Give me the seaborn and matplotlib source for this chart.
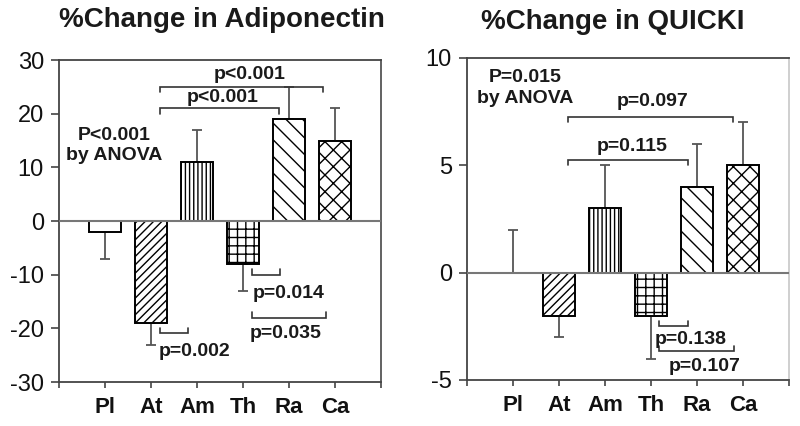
import matplotlib
matplotlib.use('Agg')
import matplotlib.pyplot as plt
import seaborn as sns

# data
groups = ['Pl', 'At', 'Am', 'Th', 'Ra', 'Ca']
hatches = ['', '////', '||||', '++', '\\\\', 'xx']

adipo_mean = [-2, -19, 11, -8, 19, 15]
adipo_err = [5, 4, 6, 5, 6, 6]

quicki_mean = [0, -2, 3, -2, 4, 5]
quicki_err = [2, 1, 2, 2, 2, 2]

# annotations: brackets (x1, x2, y, end length) and p-value texts
adipo_brackets = [(1.2, 4.75, 25, -1), (1.2, 3.78, 21, -1),
                  (1.2, 1.8, -20.9, 0.9), (3.2, 3.8, -10, 1), (3.2, 4.8, -18, 1)]
adipo_notes = [('p<0.001', 3.15, 27.4), ('p<0.001', 2.55, 23.1),
               ('p=0.002', 1.95, -24.3), ('p=0.014', 4.0, -13.4),
               ('p=0.035', 3.93, -20.9), ('P<0.001\nby ANOVA', 0.2, 14.1)]

quicki_brackets = [(1.2, 4.78, 7.26, -0.26), (1.2, 3.8, 5.26, -0.26),
                   (3.17, 3.8, -2.47, 0.24), (3.17, 4.8, -3.67, 0.23)]
quicki_notes = [('p=0.097', 3.04, 7.95), ('p=0.115', 2.6, 5.86),
                ('p=0.138', 3.87, -3.12), ('p=0.107', 4.17, -4.37),
                ('P=0.015\nby ANOVA', 0.26, 8.6)]

sns.set_style('ticks')
plt.rcParams['font.family'] = ['Liberation Sans', 'DejaVu Sans']
plt.rcParams['hatch.linewidth'] = 1.0

fig = plt.figure(figsize=(8, 4.26), dpi=100)
ax1 = fig.add_axes([0.074, 0.103, 0.402, 0.756])
ax2 = fig.add_axes([0.584, 0.108, 0.402, 0.756])


def draw_panel(ax, means, errs, ylim, yticks, brackets, notes, right_color):
    sns.barplot(x=groups, y=means, color='white', edgecolor='black', linewidth=1.4,
                width=0.7, errorbar=None, ax=ax, zorder=2)
    for patch, h in zip(ax.patches, hatches):
        patch.set_hatch(h)
        patch.set_facecolor('white')

    # one-sided error bars pointing away from zero
    lo = [e if m < 0 else 0 for m, e in zip(means, errs)]
    hi = [0 if m < 0 else e for m, e in zip(means, errs)]
    ax.errorbar(range(len(groups)), means, yerr=[lo, hi], fmt='none', ecolor='#555555',
                elinewidth=1.3, capsize=3.5, capthick=1.3, zorder=1)
    ax.axhline(0, color='#777777', lw=1.5, zorder=3)

    for x1, x2, y, d in brackets:
        ax.plot([x1, x1, x2, x2], [y + d, y, y, y + d], color='#333333', lw=1.2,
                solid_joinstyle='miter')
    for txt, x, y in notes:
        ax.text(x, y, txt, ha='center', va='center', fontsize=14, fontweight='bold',
                color='#1a1a1a', linespacing=1.25, multialignment='center')

    ax.set_xlim(-1, 6)
    ax.set_ylim(*ylim)
    ax.set_xticks(range(-1, 7))
    ax.set_xticklabels([''] + groups + [''], fontsize=16, fontweight='bold')
    ax.set_yticks(yticks)
    ax.set_yticklabels([str(t) for t in yticks], fontsize=17)
    ax.set_xlabel('')
    ax.set_ylabel('')
    ax.tick_params(axis='x', length=4, width=1.2, pad=7, colors='#444444', labelcolor='#111111')
    ax.tick_params(axis='y', length=6, width=1.2, pad=5, colors='#444444', labelcolor='#111111')
    for side in ['left', 'bottom', 'top']:
        ax.spines[side].set_visible(True)
        ax.spines[side].set_color('#444444')
        ax.spines[side].set_linewidth(1.3)
    ax.spines['right'].set_visible(True)
    ax.spines['right'].set_color(right_color)
    ax.spines['right'].set_linewidth(1.3)


draw_panel(ax1, adipo_mean, adipo_err, (-30, 30), [-30, -20, -10, 0, 10, 20, 30],
           adipo_brackets, adipo_notes, '#555555')
draw_panel(ax2, quicki_mean, quicki_err, (-5, 10), [-5, 0, 5, 10],
           quicki_brackets, quicki_notes, '#cccccc')

fig.text(0.278, 0.953, '%Change in Adiponectin', ha='center', va='center',
         fontsize=20, fontweight='bold', color='#1a1a1a')
fig.text(0.766, 0.948, '%Change in QUICKI', ha='center', va='center',
         fontsize=20, fontweight='bold', color='#1a1a1a')

fig.savefig('out.png', dpi=100, facecolor='white')
